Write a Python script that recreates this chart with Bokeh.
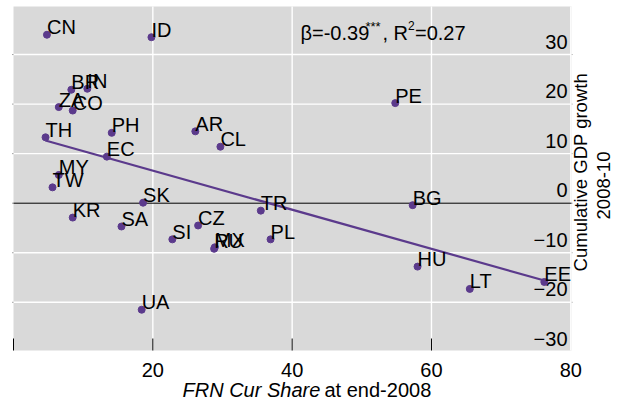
import math
from bokeh.plotting import figure
from bokeh.models import ColumnDataSource, Range1d
from bokeh.core.properties import value
from bokeh.embed import file_html
from bokeh.resources import INLINE

# ---- data ----
countries = ["CN", "ID", "BR", "IN", "ZA", "CO", "TH", "PH", "AR", "CL", "EC", "MY", "TW", "PE",
             "SK", "KR", "SA", "SI", "CZ", "MX", "RU", "TR", "PL", "UA", "BG", "HU", "LT", "EE"]
frn_share = [4.8, 19.8, 8.3, 10.6, 6.5, 8.5, 4.6, 14.1, 26.1, 29.7, 13.4, 6.5, 5.6, 54.8,
             18.6, 8.5, 15.5, 22.8, 26.5, 28.9, 28.8, 35.5, 36.9, 18.4, 57.3, 58.0, 65.5, 76.2]
gdp_growth = [34.0, 33.5, 22.9, 23.1, 19.4, 18.7, 13.3, 14.2, 14.5, 11.4, 9.4, 5.7, 3.2, 20.2,
              0.1, -2.9, -4.7, -7.3, -4.5, -8.9, -9.2, -1.5, -7.3, -21.5, -0.4, -12.8, -17.3, -15.9]
fit_x = [4.59, 76.2]
fit_y = [12.66, -15.6]
x_ticks = [0, 20, 40, 60, 80]
x_tick_labels = ["", "20", "40", "60", "80"]
y_ticks = [-30, -20, -10, 0, 10, 20, 30]
y_tick_labels = ["\u221230", "\u221220", "\u221210", "0", "10", "20", "30"]

FONT = "Liberation Sans"
PURPLE = "#5B3A8C"
PANEL = "#D9D9D9"

W, H = 619, 403
# panel (plot area) placement in pixels
PL, PT, PW, PH = 13, 6, 558, 344
X0, X1 = 0.0, 80.1          # panel x limits (data)
Y0, Y1 = -29.73, 39.7       # panel y limits (data)
SX = PW / (X1 - X0)         # px per x unit
SY = PH / (Y1 - Y0)         # px per y unit


def px_x(px):
    return X0 + (px - PL) / SX


def px_y(py):
    return Y1 - (py - PT) / SY


p = figure(width=W, height=H, output_backend="svg", toolbar_location=None,
           x_range=Range1d(px_x(0), px_x(W)), y_range=Range1d(px_y(H), px_y(0)),
           x_axis_location=None, y_axis_location=None, min_border=0)
p.grid.visible = False
p.background_fill_color = "white"
p.border_fill_color = "white"
p.outline_line_color = None

# panel background
p.quad(left=[X0], right=[X1], bottom=[Y0], top=[Y1], fill_color=PANEL, line_color=None)

# grid lines
gx = [t for t in x_ticks if X0 < t <= X1]
p.segment(x0=gx, x1=gx, y0=[Y0] * len(gx), y1=[Y1] * len(gx), line_color="white", line_width=1.4)
gy = [t for t in y_ticks if Y0 < t < Y1 and t != 0]
p.segment(x0=[X0] * len(gy), x1=[X1] * len(gy), y0=gy, y1=gy, line_color="white", line_width=1.4)
# faint tick stubs on both panel edges
ey = [t for t in y_ticks if Y0 < t < Y1]
p.segment(x0=[px_x(PL - 1.5)] * len(ey), x1=[X0] * len(ey), y0=ey, y1=ey, line_color="#A0A0A0", line_width=1)
p.segment(x0=[X1] * len(ey), x1=[px_x(PL + PW + 1.5)] * len(ey), y0=ey, y1=ey, line_color="#C8C8C8", line_width=1)
# zero line
p.segment(x0=[X0], x1=[X1], y0=[0], y1=[0], line_color="black", line_width=1)

# x ticks (pointing inward from panel bottom)
tx = [t for t in x_ticks if t < X1 - 1]
p.segment(x0=tx, x1=tx, y0=[Y0] * len(tx), y1=[Y0 + 12 / SY] * len(tx), line_color="black", line_width=1)


def add_text(xs, ys, txts, size="20px", style="normal", align="left", angle=0.0):
    p.text(x=xs, y=ys, text=txts, text_font=value(FONT), text_font_size=size,
           text_font_style=style, text_align=align, text_baseline="middle",
           angle=angle, text_color="black")


# x tick labels
add_text(x_ticks, [px_y(369)] * len(x_ticks), x_tick_labels, align="center")
# right-hand tick labels, drawn inside the panel, raised above their grid line
add_text([px_x(567)] * len(y_ticks), [v + 13 / SY for v in y_ticks], y_tick_labels, align="right")

# data
src = ColumnDataSource(dict(x=frn_share, y=gdp_growth, c=countries,
                            ly=[v + 7.5 / SY for v in gdp_growth]))
p.line(fit_x, fit_y, line_color=PURPLE, line_width=2.2)
p.scatter("x", "y", source=src, size=7, fill_color=PURPLE, line_color=PURPLE)
p.text("x", "ly", text="c", source=src, text_font=value(FONT), text_font_size="20px",
       text_align="left", text_baseline="middle", text_color="black")

# regression annotation
add_text([px_x(300)], [px_y(32)], ["\u03b2=-0.39"])
add_text([px_x(365)], [px_y(26)], ["***"], size="13px")
add_text([px_x(382)], [px_y(32)], [", R"])
add_text([px_x(407.5)], [px_y(24.5)], ["2"], size="12px")
add_text([px_x(414.5)], [px_y(32)], ["=0.27"])

# x-axis title
add_text([px_x(182)], [px_y(389)], ["FRN Cur Share"], style="italic")
add_text([px_x(324)], [px_y(389)], ["at end-2008"])

# y-axis title (right side, rotated)
add_text([px_x(580)], [px_y(171.7)], ["Cumulative GDP growth"], size="18.5px", align="center", angle=math.pi / 2)
add_text([px_x(603)], [px_y(185)], ["2008-10"], size="18.5px", align="center", angle=math.pi / 2)

open("out.html", "w").write(file_html(p, INLINE))
